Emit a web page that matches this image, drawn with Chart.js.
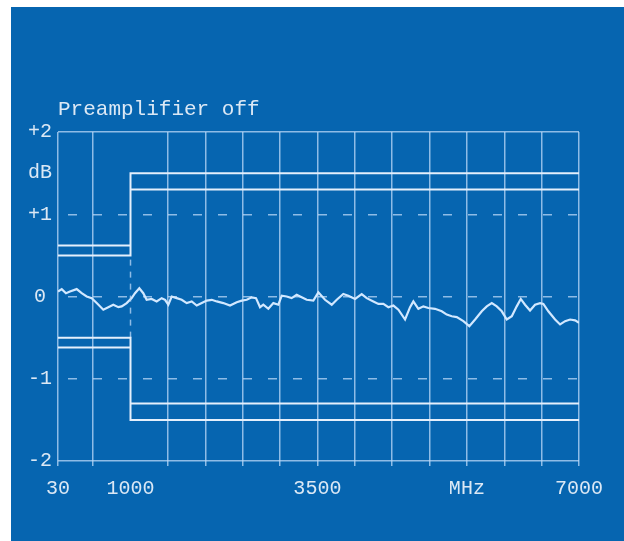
<!DOCTYPE html>
<html>
<head>
<meta charset="utf-8">
<script src="https://cdn.jsdelivr.net/npm/chart.js@4/dist/chart.umd.min.js"></script>
<style>
  html, body { margin: 0; padding: 0; background: #ffffff; width: 624px; height: 541px; overflow: hidden; }
  #panel { position: absolute; left: 11px; top: 7px; width: 613px; height: 534px; background: #0665b0; }
  #c { display: block; }
</style>
</head>
<body>
<div id="panel"><canvas id="c"></canvas></div>
<script>
// ---- data ----
const titleText = 'Preamplifier off';

const freqMHz = [30, 80, 137, 190, 280, 347, 414, 481, 548, 636, 703, 770, 837, 882, 949, 1016, 1060, 1118, 1171, 1216,
  1283, 1350, 1417, 1462, 1506, 1551, 1618, 1685, 1752, 1819, 1886, 1953, 2020, 2087, 2154, 2242, 2331, 2421, 2488, 2555,
  2622, 2679, 2733, 2777, 2844, 2911, 2978, 3023, 3089, 3156, 3223, 3290, 3357, 3446, 3513, 3602, 3692, 3759, 3847, 3914,
  4004, 4093, 4160, 4249, 4316, 4383, 4450, 4517, 4584, 4673, 4740, 4784, 4851, 4918, 4985, 5074, 5164, 5231, 5298, 5365,
  5453, 5533, 5610, 5699, 5766, 5833, 5900, 5967, 6034, 6101, 6167, 6221, 6278, 6345, 6412, 6479, 6523, 6590, 6680, 6747,
  6814, 6881, 6948, 7000];
const levelDb = [0.06, 0.09, 0.04, 0.06, 0.09, 0.04, 0.00, -0.02, -0.08, -0.16, -0.13, -0.10, -0.13, -0.12, -0.08, -0.02, 0.04, 0.10, 0.04, -0.04,
  -0.03, -0.06, -0.02, -0.04, -0.10, 0.00, -0.02, -0.04, -0.08, -0.06, -0.11, -0.08, -0.05, -0.04, -0.06, -0.08, -0.11, -0.07, -0.05, -0.04,
  -0.01, -0.02, -0.13, -0.10, -0.15, -0.08, -0.10, 0.01, 0.00, -0.02, 0.02, -0.01, -0.04, -0.05, 0.05, -0.04, -0.10, -0.04, 0.03, 0.01,
  -0.03, 0.03, -0.02, -0.06, -0.09, -0.09, -0.13, -0.11, -0.16, -0.28, -0.13, -0.06, -0.15, -0.12, -0.14, -0.15, -0.18, -0.22, -0.24, -0.25,
  -0.30, -0.36, -0.28, -0.18, -0.12, -0.08, -0.12, -0.18, -0.28, -0.24, -0.12, -0.03, -0.10, -0.17, -0.10, -0.08, -0.09, -0.18, -0.28, -0.34,
  -0.30, -0.28, -0.29, -0.32];

// tolerance limit lines (MHz / dB)
const upperStepX = [30, 1000, 1000, 7000];
const upperStepY = [0.5, 0.5, 1.5, 1.5];
const upperLowBandX = [30, 1000];
const upperLowBandY = [0.62, 0.62];
const upperHighBandX = [1000, 7000];
const upperHighBandY = [1.3, 1.3];
const lowerStepX = [30, 1000, 1000, 7000];
const lowerStepY = [-0.5, -0.5, -1.5, -1.5];
const lowerLowBandX = [30, 1000];
const lowerLowBandY = [-0.62, -0.62];
const lowerHighBandX = [1000, 7000];
const lowerHighBandY = [-1.3, -1.3];
const markerX = [1000, 1000];
const markerY = [-0.5, 0.5];

// axes
const xMin = 30, xMax = 7000;
const xGridValues = [30, 500, 1000, 1500, 2000, 2500, 3000, 3500, 4000, 4500, 5000, 5500, 6000, 6500, 7000];
const xLabelValues = [30, 1000, 3500, 5500, 7000];
const xLabelTexts = ['30', '1000', '3500', 'MHz', '7000'];
const yMin = -2, yMax = 2;
const yLabelValues = [-2, -1, 0, 1, 1.5, 2];
const yLabelTexts = ['-2', '-1', '0', '+1', 'dB', '+2'];
const ySolidValues = [-2, 2];
const yDashedValues = [-1, 0, 1];

// ---- styles ----
const textColor = '#dbe8f5';
const gridColor = 'rgba(190,218,248,0.75)';
const limitColor = '#e4effc';
const traceColor = '#d2e8ff';
const fontFamily = "'Liberation Mono', 'DejaVu Sans Mono', monospace";

const pts = (xs, ys) => xs.map((x, i) => ({ x: x, y: ys[i] }));
const limitDs = (xs, ys) => ({
  data: pts(xs, ys), borderColor: limitColor, borderWidth: 2, pointRadius: 0, tension: 0, fill: false
});

const datasets = [
  limitDs(upperStepX, upperStepY),
  limitDs(upperLowBandX, upperLowBandY),
  limitDs(upperHighBandX, upperHighBandY),
  limitDs(lowerStepX, lowerStepY),
  limitDs(lowerLowBandX, lowerLowBandY),
  limitDs(lowerHighBandX, lowerHighBandY),
  { data: pts(markerX, markerY), borderColor: gridColor, borderWidth: 1.5, borderDash: [6, 6], pointRadius: 0, fill: false },
  { data: pts(freqMHz, levelDb), borderColor: traceColor, borderWidth: 2.2, pointRadius: 0, tension: 0, fill: false }
];

new Chart(document.getElementById('c'), {
  type: 'line',
  data: { datasets: datasets },
  options: {
    responsive: true,
    maintainAspectRatio: false,
    animation: false,
    devicePixelRatio: 1,
    layout: { padding: { left: 0, right: 45, top: 0, bottom: 0 } },
    plugins: {
      legend: { display: false },
      tooltip: { enabled: false },
      title: {
        display: true,
        text: titleText,
        align: 'start',
        fullSize: false,
        color: textColor,
        font: { family: fontFamily, size: 21, weight: 'normal', lineHeight: 1.2 },
        padding: { top: 90, bottom: 9.8 }
      }
    },
    scales: {
      x: {
        type: 'linear',
        min: xMin, max: xMax,
        afterBuildTicks: s => { s.ticks = xGridValues.map(v => ({ value: v })); },
        afterFit: s => { s.height = 80; },
        border: { display: false },
        grid: {
          color: c => (c.tick && c.tick.value === 1000) ? 'rgba(0,0,0,0)' : gridColor,
          tickColor: c => (c.tick && c.tick.value === 1000) ? 'rgba(0,0,0,0)' : gridColor,
          lineWidth: 1.5,
          drawTicks: true,
          tickLength: 5
        },
        ticks: {
          autoSkip: false, maxRotation: 0, minRotation: 0,
          padding: 11,
          color: textColor,
          font: { family: fontFamily, size: 20 },
          callback: v => { const i = xLabelValues.indexOf(v); return i >= 0 ? xLabelTexts[i] : ''; }
        }
      },
      y: {
        type: 'linear',
        position: 'left',
        min: yMin, max: yMax,
        afterBuildTicks: s => { s.ticks = yLabelValues.map(v => ({ value: v })); },
        afterFit: s => { s.width = 47; },
        border: { display: false },
        grid: {
          color: c => (c.tick && ySolidValues.includes(c.tick.value)) ? gridColor : 'rgba(0,0,0,0)',
          lineWidth: 1.5,
          drawTicks: false
        },
        ticks: {
          autoSkip: false,
          padding: 6,
          crossAlign: 'center',
          color: textColor,
          font: { family: fontFamily, size: 20 },
          callback: v => { const i = yLabelValues.indexOf(v); return i >= 0 ? yLabelTexts[i] : ''; }
        }
      },
      yDash: {
        type: 'linear',
        position: 'left',
        min: yMin, max: yMax,
        afterBuildTicks: s => { s.ticks = yDashedValues.map(v => ({ value: v })); },
        afterFit: s => { s.width = 0; },
        border: { display: false, dash: [9, 16], dashOffset: 15 },
        grid: { color: gridColor, lineWidth: 1.5, drawTicks: false },
        ticks: { display: false }
      }
    }
  }
});
</script>
</body>
</html>
